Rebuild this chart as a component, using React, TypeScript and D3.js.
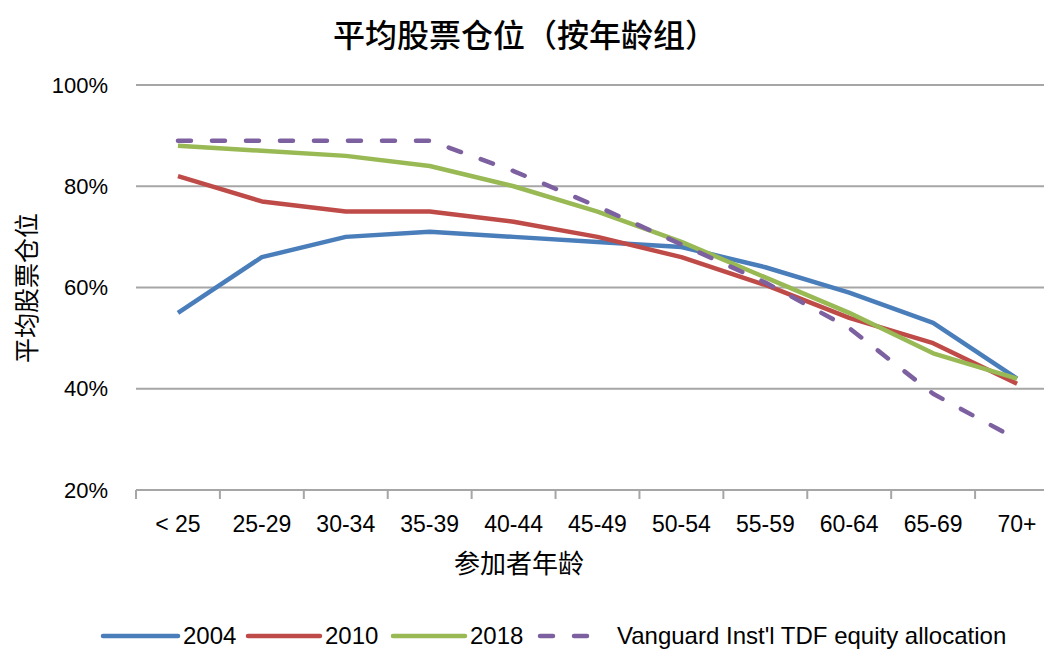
import * as d3 from "d3";
import { useEffect, useRef } from "react";

const categories = ["< 25", "25-29", "30-34", "35-39", "40-44", "45-49", "50-54", "55-59", "60-64", "65-69", "70+"];
const yTicks = [0.2, 0.4, 0.6, 0.8, 1.0];

const s2004 = [0.55, 0.66, 0.70, 0.71, 0.70, 0.69, 0.68, 0.64, 0.59, 0.53, 0.42];
const s2010 = [0.82, 0.77, 0.75, 0.75, 0.73, 0.70, 0.66, 0.605, 0.54, 0.49, 0.41];
const s2018 = [0.88, 0.87, 0.86, 0.84, 0.80, 0.75, 0.69, 0.62, 0.55, 0.47, 0.42];
const vanguard = [0.89, 0.89, 0.89, 0.89, 0.83, 0.76, 0.685, 0.61, 0.52, 0.39, 0.30];

const seriesNames = ["2004", "2010", "2018", "Vanguard Inst'l TDF equity allocation"];
const seriesColors = ["#4a7ebb", "#be4b48", "#98b954", "#7d60a0"];

const latin = "'Liberation Sans', Arial, sans-serif";
const cjk = "'Noto Sans CJK SC', sans-serif";

export default function App() {
    const ref = useRef<SVGSVGElement | null>(null);

    useEffect(() => {
        if (!ref.current) return;
        const svg = d3.select(ref.current);
        svg.selectAll("*").remove();

        const width = 1044;
        const height = 650;
        const left = 136;
        const right = 1059; // plot runs past the right edge, as in the picture
        const top = 85;
        const bottom = 490;

        svg.attr("width", width).attr("height", height);

        const x = d3.scaleBand<string>().domain(categories).range([left, right]);
        const y = d3.scaleLinear().domain([0.2, 1.0]).range([bottom, top]);

        // gridlines
        svg.append("g")
            .selectAll("line")
            .data(yTicks.filter((t) => t > 0.2))
            .join("line")
            .attr("x1", left)
            .attr("x2", width)
            .attr("y1", (d) => y(d))
            .attr("y2", (d) => y(d))
            .attr("stroke", "#a6a6a6")
            .attr("stroke-width", 2);

        // y tick labels
        svg.append("g")
            .selectAll("text")
            .data(yTicks)
            .join("text")
            .attr("x", 108)
            .attr("y", (d) => y(d))
            .attr("dy", "0.35em")
            .attr("text-anchor", "end")
            .attr("font-family", latin)
            .attr("font-size", 22)
            .attr("fill", "#000")
            .text((d) => `${Math.round(d * 100)}%`);

        // x axis
        const xAxis = svg.append("g").attr("transform", `translate(0,${bottom})`);
        xAxis.append("line")
            .attr("x1", left)
            .attr("x2", width)
            .attr("stroke", "#a6a6a6")
            .attr("stroke-width", 2);
        xAxis.selectAll("line.tick")
            .data(categories)
            .join("line")
            .attr("class", "tick")
            .attr("x1", (d) => x(d)!)
            .attr("x2", (d) => x(d)!)
            .attr("y1", 0)
            .attr("y2", 9)
            .attr("stroke", "#a6a6a6")
            .attr("stroke-width", 2);
        xAxis.selectAll("text")
            .data(categories)
            .join("text")
            .attr("x", (d) => x(d)! + x.bandwidth() / 2)
            .attr("y", 42)
            .attr("text-anchor", "middle")
            .attr("font-family", latin)
            .attr("font-size", 23)
            .attr("fill", "#000")
            .text((d) => d);

        const line = d3
            .line<number>()
            .x((_, i) => x(categories[i])! + x.bandwidth() / 2)
            .y((d) => y(d));

        const allSeries = [s2004, s2010, s2018, vanguard];
        allSeries.forEach((data, i) => {
            svg.append("path")
                .datum(data)
                .attr("fill", "none")
                .attr("stroke", seriesColors[i])
                .attr("stroke-width", 4.5)
                .attr("stroke-linejoin", "round")
                .attr("stroke-linecap", i === 3 ? "round" : "butt")
                .attr("stroke-dasharray", i === 3 ? "13,21" : null)
                .attr("d", line);
        });

        // title
        svg.append("text")
            .attr("x", 525)
            .attr("y", 47)
            .attr("text-anchor", "middle")
            .attr("font-family", cjk)
            .attr("font-size", 32)
            .attr("font-weight", 500)
            .attr("fill", "#000")
            .text("平均股票仓位（按年龄组）");

        // axis titles
        svg.append("text")
            .attr("transform", `translate(36,288) rotate(-90)`)
            .attr("text-anchor", "middle")
            .attr("font-family", cjk)
            .attr("font-size", 25)
            .attr("fill", "#000")
            .text("平均股票仓位");

        svg.append("text")
            .attr("x", 519)
            .attr("y", 573)
            .attr("text-anchor", "middle")
            .attr("font-family", cjk)
            .attr("font-size", 26)
            .attr("fill", "#000")
            .text("参加者年龄");

        // legend
        const legendY = 636;
        const legendItems = [
            { x0: 103, x1: 178, tx: 183 },
            { x0: 248, x1: 320, tx: 325 },
            { x0: 393, x1: 465, tx: 470 },
            { x0: 540, x1: 595, tx: 617 },
        ];
        legendItems.forEach((it, i) => {
            svg.append("line")
                .attr("x1", it.x0)
                .attr("x2", it.x1)
                .attr("y1", legendY)
                .attr("y2", legendY)
                .attr("stroke", seriesColors[i])
                .attr("stroke-width", 4.5)
                .attr("stroke-linecap", "round")
                .attr("stroke-dasharray", i === 3 ? "13,21" : null);
            svg.append("text")
                .attr("x", it.tx)
                .attr("y", legendY)
                .attr("dy", "0.35em")
                .attr("font-family", latin)
                .attr("font-size", 24)
                .attr("fill", "#000")
                .text(seriesNames[i]);
        });
    }, []);

    return (
        <svg
            ref={ref}
            style={{ position: "absolute", left: 0, top: 0, background: "#fff" }}
        ></svg>
    );
}
